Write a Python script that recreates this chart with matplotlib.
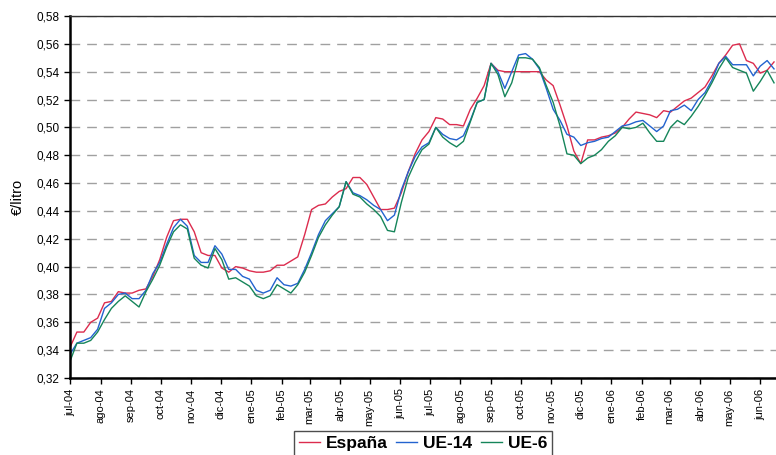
import matplotlib
matplotlib.use("Agg")
import matplotlib.pyplot as plt
import matplotlib.dates as mdates
from matplotlib.ticker import FuncFormatter
import pandas as pd

plt.rcParams['font.family'] = ['Liberation Sans', 'DejaVu Sans']

# Precio semanal (€/litro), semanas desde el 5 de julio de 2004
semanas = pd.date_range('2004-07-05', periods=103, freq='7D')

espana = [0.342, 0.353, 0.353, 0.360, 0.363, 0.374, 0.375, 0.382, 0.381, 0.381,
          0.383, 0.384, 0.393, 0.405, 0.421, 0.433, 0.434, 0.434, 0.425, 0.410,
          0.408, 0.408, 0.399, 0.396, 0.400, 0.399, 0.397, 0.396,
          0.396, 0.397, 0.401, 0.401, 0.404, 0.407, 0.423, 0.441, 0.444, 0.445,
          0.450, 0.454, 0.456, 0.464, 0.464, 0.459, 0.450, 0.441, 0.441, 0.442,
          0.453, 0.468, 0.481,
          0.491, 0.497, 0.507, 0.506, 0.502, 0.502, 0.501, 0.513, 0.521, 0.530,
          0.546, 0.541, 0.540, 0.540, 0.540, 0.540, 0.540, 0.540, 0.534, 0.530,
          0.516, 0.501, 0.483, 0.474, 0.491,
          0.491, 0.493, 0.494, 0.496, 0.500, 0.506, 0.511, 0.510, 0.509, 0.507,
          0.512, 0.511, 0.515, 0.519, 0.521, 0.525, 0.529, 0.537, 0.546, 0.552,
          0.559, 0.560, 0.548, 0.546, 0.539, 0.541, 0.547]

ue14 = [0.337, 0.345, 0.347, 0.349, 0.355, 0.370, 0.374, 0.380, 0.381, 0.377,
        0.377, 0.383, 0.395, 0.403, 0.416, 0.428, 0.434, 0.429, 0.408, 0.403,
        0.403, 0.415, 0.409, 0.398, 0.398, 0.393, 0.391, 0.383,
        0.381, 0.383, 0.392, 0.387, 0.386, 0.388, 0.398, 0.410, 0.423, 0.433,
        0.438, 0.443, 0.461, 0.453, 0.451, 0.448, 0.444, 0.441, 0.433, 0.437,
        0.455, 0.468, 0.479,
        0.486, 0.489, 0.500, 0.495, 0.492, 0.491, 0.494, 0.505, 0.518, 0.520,
        0.546, 0.540, 0.528, 0.540, 0.552, 0.553, 0.549, 0.542, 0.528, 0.513,
        0.505, 0.495, 0.493, 0.487, 0.489,
        0.490, 0.492, 0.493, 0.497, 0.501, 0.502, 0.504, 0.505, 0.501, 0.497,
        0.501, 0.512, 0.513, 0.516, 0.512, 0.520, 0.525, 0.534, 0.546, 0.551,
        0.545, 0.545, 0.545, 0.537, 0.544, 0.548, 0.542]

ue6 = [0.332, 0.345, 0.345, 0.347, 0.353, 0.362, 0.370, 0.375, 0.379, 0.375,
       0.371, 0.382, 0.391, 0.401, 0.414, 0.425, 0.430, 0.427, 0.406, 0.401,
       0.399, 0.413, 0.405, 0.391, 0.392, 0.389, 0.386, 0.379,
       0.377, 0.379, 0.387, 0.384, 0.381, 0.387, 0.396, 0.408, 0.421, 0.430,
       0.437, 0.443, 0.461, 0.452, 0.450, 0.445, 0.441, 0.436, 0.426, 0.425,
       0.446, 0.464, 0.475,
       0.484, 0.488, 0.500, 0.493, 0.489, 0.486, 0.490, 0.504, 0.518, 0.520,
       0.546, 0.538, 0.522, 0.532, 0.550, 0.550, 0.549, 0.543, 0.530, 0.518,
       0.501, 0.481, 0.480, 0.474, 0.478,
       0.480, 0.484, 0.490, 0.494, 0.500, 0.499, 0.500, 0.503, 0.496, 0.490,
       0.490, 0.500, 0.505, 0.502, 0.508, 0.515, 0.523, 0.532, 0.542, 0.550,
       0.543, 0.541, 0.539, 0.526, 0.533, 0.541, 0.532]

# Etiquetas mensuales del eje X
meses = ['jul-04', 'ago-04', 'sep-04', 'oct-04', 'nov-04', 'dic-04',
         'ene-05', 'feb-05', 'mar-05', 'abr-05', 'may-05', 'jun-05',
         'jul-05', 'ago-05', 'sep-05', 'oct-05', 'nov-05', 'dic-05',
         'ene-06', 'feb-06', 'mar-06', 'abr-06', 'may-06', 'jun-06']
pos_meses = pd.date_range('2004-07-05', periods=len(meses), freq=pd.DateOffset(months=1))

fig = plt.figure(figsize=(7.76, 4.55), dpi=100)
ax = fig.add_axes([70 / 776, 1 - 378 / 455, 706 / 776, 362 / 455])

ax.plot(semanas, espana, color='#dc2c4e', lw=1.0, label='España')
ax.plot(semanas, ue14, color='#2363cf', lw=1.0, label='UE-14')
ax.plot(semanas, ue6, color='#15855a', lw=1.0, label='UE-6')

ax.set_ylim(0.32, 0.58)
ax.set_yticks([0.32 + 0.02 * i for i in range(14)])
ax.yaxis.set_major_formatter(FuncFormatter(lambda v, p: f'{v:.2f}'.replace('.', ',')))
ax.set_xlim(pd.Timestamp('2004-07-05'), pd.Timestamp('2006-06-21'))
ax.set_xticks(pos_meses)
ax.set_xticklabels(meses, rotation=90, fontsize=8)
ax.tick_params(axis='y', labelsize=8.5, length=4, width=1, direction='out')
ax.tick_params(axis='x', length=4, width=1, direction='out')

# Rejilla discontinua gris
ax.grid(axis='y', color='#a0a0a0', linestyle=(0, (7, 5)), linewidth=1)
ax.set_axisbelow(True)

ax.spines['left'].set_linewidth(1.8)
ax.spines['bottom'].set_linewidth(1.8)
ax.spines['top'].set_color('#333333')
ax.spines['top'].set_linewidth(1)
ax.spines['right'].set_visible(False)

ax.set_ylabel('€/litro', fontsize=10.5, labelpad=8)

leg = ax.legend(loc='upper center', bbox_to_anchor=(423 / 776, 1 - 431 / 455),
                bbox_transform=fig.transFigure, ncol=3, frameon=True, fancybox=False,
                prop={'weight': 'bold', 'size': 12.5}, handlelength=1.2,
                handletextpad=0.35, columnspacing=0.5, borderpad=0.3, borderaxespad=0)
leg.get_frame().set_edgecolor('#222222')
leg.get_frame().set_linewidth(1)

plt.savefig('out.png', dpi=100)
